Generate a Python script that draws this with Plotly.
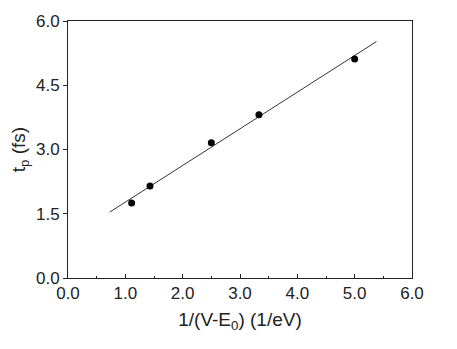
import plotly.graph_objects as go

# data
inv_energy = [1.11, 1.43, 2.50, 3.33, 5.00]
t_p = [1.75, 2.15, 3.16, 3.81, 5.11]

# linear fit, endpoints
fit_x = [0.73, 5.38]
fit_y = [1.54, 5.52]

fig = go.Figure()

fig.add_trace(go.Scatter(
    x=fit_x, y=fit_y, mode="lines",
    line=dict(color="#333333", width=1),
    hoverinfo="none"
))
fig.add_trace(go.Scatter(
    x=inv_energy, y=t_p, mode="markers",
    marker=dict(color="black", size=7)
))

font = dict(family="Liberation Sans, Arial, sans-serif", color="#222222")

# page body has an 8px margin, so the margins here are shifted by 8px
fig.update_layout(
    width=457, height=349,
    showlegend=False,
    plot_bgcolor="white", paper_bgcolor="white",
    margin=dict(l=60, r=53, t=13, b=79),
    font=dict(size=17, **font),
    xaxis=dict(
        range=[0, 6], dtick=1.0, tick0=0, tickformat=".1f",
        automargin=False,
        showgrid=False, zeroline=False,
        showline=True, linecolor="#222222", linewidth=1, mirror=True,
        ticks="inside", ticklen=4, tickcolor="#222222",
        minor=dict(ticks="inside", ticklen=2, dtick=0.5, tickcolor="#222222"),
        title=dict(text="1/(V-E<sub>0</sub>) (1/eV)", standoff=10, font=dict(size=19)),
    ),
    yaxis=dict(
        range=[0, 6], dtick=1.5, tick0=0, tickformat=".1f",
        automargin=False,
        showgrid=False, zeroline=False,
        showline=True, linecolor="#222222", linewidth=1, mirror=True,
        ticks="outside", ticklen=4, tickcolor="#222222",
        title=dict(text="t<sub>p</sub> (fs)", standoff=6, font=dict(size=19)),
    ),
)

fig.write_html("out.html")
